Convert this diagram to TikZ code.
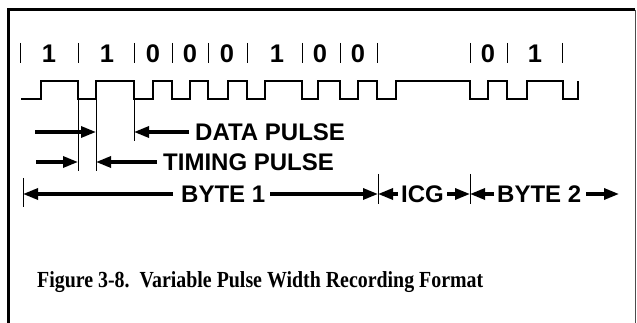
\documentclass[tikz,border=0pt]{standalone}
\usepackage{fontspec}
\usepackage{graphicx}
\setmainfont{Liberation Serif}
\newfontfamily\labfont{Liberation Sans}
\usetikzlibrary{arrows.meta}
\begin{document}
\begin{tikzpicture}[x=1pt,y=-1pt,
  lab/.style={font=\labfont\bfseries\fontsize{24}{24}\selectfont, inner sep=0pt, anchor=west},
  bit/.style={font=\labfont\bfseries\fontsize{25.5}{25.5}\selectfont, inner sep=0pt},
  tickline/.style={line width=1pt},
  wave/.style={line width=1.2pt, line join=miter},
  arr/.style={line width=3.2pt, -{Triangle[length=15pt,width=11pt]}},
]
\useasboundingbox (0,0) rectangle (637,323);
\fill[white] (0,0) rectangle (637,323);
% frame
\draw[line width=3pt] (8,323) -- (8,10) -- (635,10);
\draw[line width=0.8pt, black!70] (635,10) -- (635,323);

% bit cell ticks
\foreach \x in {20,78,134,172,208,247,302,340,377,470,507,562}
  \draw[tickline] (\x,43) -- (\x,63);
% bit values
\node[bit] (d1) at (49,54) {1};
\node[bit] (d2) at (107,54) {1};
\node[bit] (d3) at (153,54) {0};
\node[bit] (d4) at (190,54) {0};
\node[bit] (d5) at (227,54) {0};
\node[bit] (d6) at (277,54) {1};
\node[bit] (d7) at (320,54) {0};
\node[bit] (d8) at (358,54) {0};
\node[bit] (d9) at (488,54) {0};
\node[bit] (d10) at (535,54) {1};

% waveform
\draw[wave] (21,99) -- (41,99) -- (41,81) -- (78,81) -- (78,99) -- (96,99) -- (96,81)
  -- (134,81) -- (134,99) -- (153,99) -- (153,81) -- (172,81) -- (172,99) -- (190,99)
  -- (190,81) -- (208,81) -- (208,99) -- (228,99) -- (228,81) -- (247,81) -- (247,99)
  -- (265,99) -- (265,81) -- (302,81) -- (302,99) -- (318,99) -- (318,81) -- (340,81)
  -- (340,99) -- (358,99) -- (358,81) -- (377,81) -- (377,99) -- (396,99) -- (396,81)
  -- (470,81) -- (470,99) -- (488,99) -- (488,81) -- (507,81) -- (507,99) -- (527,99)
  -- (527,81) -- (563,81) -- (563,99) -- (578,99) -- (578,81);

% extension lines
\coordinate (t1) at (78,99);  \coordinate (t1b) at (78,171);
\coordinate (t2) at (96,99);  \coordinate (t2b) at (96,171);
\coordinate (t3) at (134,99); \coordinate (t3b) at (134,141);
\draw[tickline] (t1) -- (t1b);
\draw[tickline] (t2) -- (t2b);
\draw[tickline] (t3) -- (t3b);

% labels
\node[lab] (data) at (195,132) {DATA PULSE};
\node[lab] (timing) at (163,162) {TIMING PULSE};
\node[lab] (byte1) at (181,194) {BYTE 1};
\node[lab] (icg) at (401,194) {ICG};
\node[lab] (byte2) at (497,194) {BYTE 2};

% data pulse arrows
\coordinate (dl) at (35,132);
\draw[arr] (dl) -- (dl -| t2);
\draw[arr, shorten <=6pt] (data.west) -- (data.west -| t3);
% timing pulse arrows
\coordinate (tl) at (36,162);
\draw[arr] (tl) -- (tl -| t1);
\draw[arr, shorten <=6pt] (timing.west) -- (timing.west -| t2);

% byte row ticks
\coordinate (b0t) at (23,178); \coordinate (b0b) at (23,207);
\coordinate (b1t) at (378,174); \coordinate (b1b) at (378,204);
\coordinate (b2t) at (470,174); \coordinate (b2b) at (470,204);
\coordinate (b3) at (619,194);
\draw[tickline] (b0t) -- (b0b);
\draw[tickline] (b1t) -- (b1b);
\draw[tickline] (b2t) -- (b2b);
\draw[arr, shorten <=8pt] (byte1.west) -- (byte1.west -| b0t);
\draw[arr, shorten <=5pt] (byte1.east) -- (byte1.east -| b1t);
\draw[arr, shorten <=3pt] (icg.west) -- (icg.west -| b1t);
\draw[arr, shorten <=3pt] (icg.east) -- (icg.east -| b2t);
\draw[arr, shorten <=3pt] (byte2.west) -- (byte2.west -| b2t);
\draw[arr, shorten <=5pt] (byte2.east) -- (b3);

% caption
\node[anchor=base west, inner sep=0pt] (cap) at (37,287)
  {\resizebox{446pt}{\height}{\bfseries\fontsize{23}{24}\selectfont Figure 3-8.\ \ Variable Pulse Width Recording Format}};
\end{tikzpicture}
\end{document}
